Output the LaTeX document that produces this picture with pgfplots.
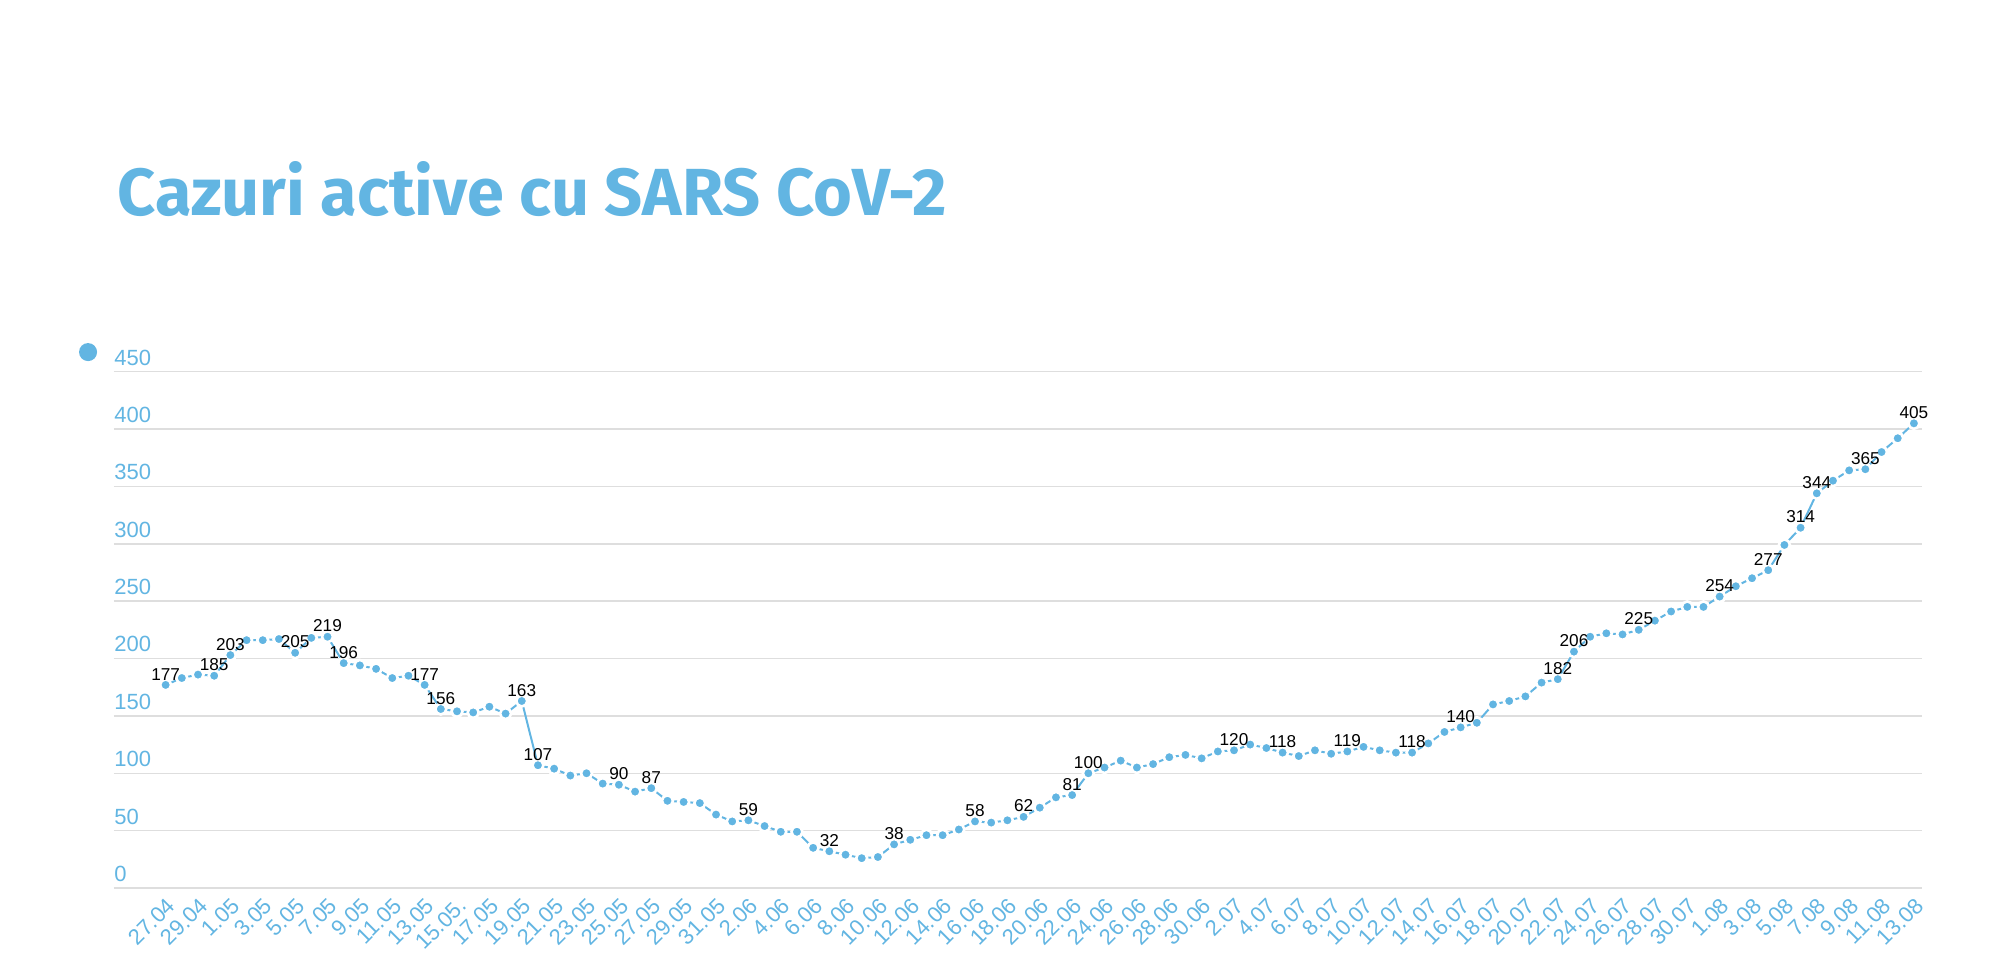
\documentclass[border=0pt]{standalone}
\usepackage{fontspec}
\setmainfont{Liberation Sans}
\newfontfamily\titlefont{Fira Sans}
\usepackage{pgfplots}
\pgfplotsset{compat=1.18}
\usepackage{pgfplotstable}
\definecolor{cblue}{RGB}{98,181,226}
\definecolor{cgrid}{RGB}{222,222,222}

\pgfplotstableread{
x y
0 177
1 183
2 186
3 185
4 203
5 216
6 216
7 217
8 205
9 218
10 219
11 196
12 194
13 191
14 183
15 185
16 177
17 156
18 154
19 153
20 158
21 152
22 163
23 107
24 104
25 98
26 100
27 91
28 90
29 84
30 87
31 76
32 75
33 74
34 64
35 58
36 59
37 54
38 49
39 49
40 35
41 32
42 29
43 26
44 27
45 38
46 42
47 46
48 46
49 51
50 58
51 57
52 59
53 62
54 70
55 79
56 81
57 100
58 105
59 111
60 105
61 108
62 114
63 116
64 113
65 119
66 120
67 125
68 122
69 118
70 115
71 120
72 117
73 119
74 123
75 120
76 118
77 118
78 126
79 136
80 140
81 144
82 160
83 163
84 167
85 179
86 182
87 206
88 219
89 222
90 221
91 225
92 233
93 241
94 245
95 245
96 254
97 263
98 270
99 277
100 299
101 314
102 344
103 355
104 364
105 365
106 380
107 392
108 405
}\activedata

\pgfplotstableread{
x y
0 177
3 185
4 203
8 205
10 219
11 196
16 177
17 156
22 163
23 107
28 90
30 87
36 59
41 32
45 38
50 58
53 62
56 81
57 100
66 120
69 118
73 119
77 118
80 140
86 182
87 206
91 225
96 254
99 277
101 314
102 344
105 365
108 405
}\labeldata

\begin{document}
\begin{tikzpicture}
\useasboundingbox (0,0) rectangle (997pt,484.5pt);
\node[anchor=base west, inner sep=0pt, text=cblue, font=\titlefont\bfseries\fontsize{33.3}{40}\selectfont] at (58.5pt,376.5pt) {Cazuri active cu SARS CoV-2};
\begin{axis}[
  at={(57pt,40.5pt)}, anchor=south west,
  scale only axis, width=904pt, height=258.15pt,
  xmin=-3.19, xmax=108.5, ymin=0, ymax=450,
  clip=false,
  axis line style={draw=none},
  major tick length=0pt,
  ytick={0,50,...,450},
  ymajorgrids,
  grid style={cgrid, line width=0.7pt},
  xtick={0,2,...,108},
  xticklabels={27.04,29.04,1.05,3.05,5.05,7.05,9.05,11.05,13.05,15.05.,17.05,19.05,21.05,23.05,25.05,27.05,29.05,31.05,2.06,4.06,6.06,8.06,10.06,12.06,14.06,16.06,18.06,20.06,22.06,24.06,26.06,28.06,30.06,2.07,4.07,6.07,8.07,10.07,12.07,14.07,16.07,18.07,20.07,22.07,24.07,26.07,28.07,30.07,1.08,3.08,5.08,7.08,9.08,11.08,13.08},
  x tick label style={xshift=0pt, yshift=-4pt, rotate=45, anchor=north east, inner sep=0pt, text=cblue, font=\fontsize{11}{12}\selectfont},
  y tick label style={anchor=south west, inner sep=0pt, yshift=3pt, text=cblue, font=\fontsize{11}{12}\selectfont},
  /pgf/number format/assume math mode=true,
  legend style={draw=none, fill=none, at={(-0.0138,1.038)}, anchor=center, inner sep=0pt, outer sep=0pt, nodes={inner sep=0pt}},
  legend image code/.code={\fill[cblue] (0pt,0pt) circle (4pt);},
]
\addplot[cblue, line width=1pt, mark=*, mark size=2.75pt, mark options={draw=white, fill=cblue, line width=1.3pt}] table[x=x,y=y] {\activedata};
\addlegendentry{}
\addplot[draw=none, mark=none, nodes near coords, nodes near coords style={font=\fontsize{8.6}{10}\selectfont, text=black, anchor=south, inner sep=0pt, yshift=2.2pt}] table[x=x,y=y] {\labeldata};
\end{axis}
\end{tikzpicture}
\end{document}
